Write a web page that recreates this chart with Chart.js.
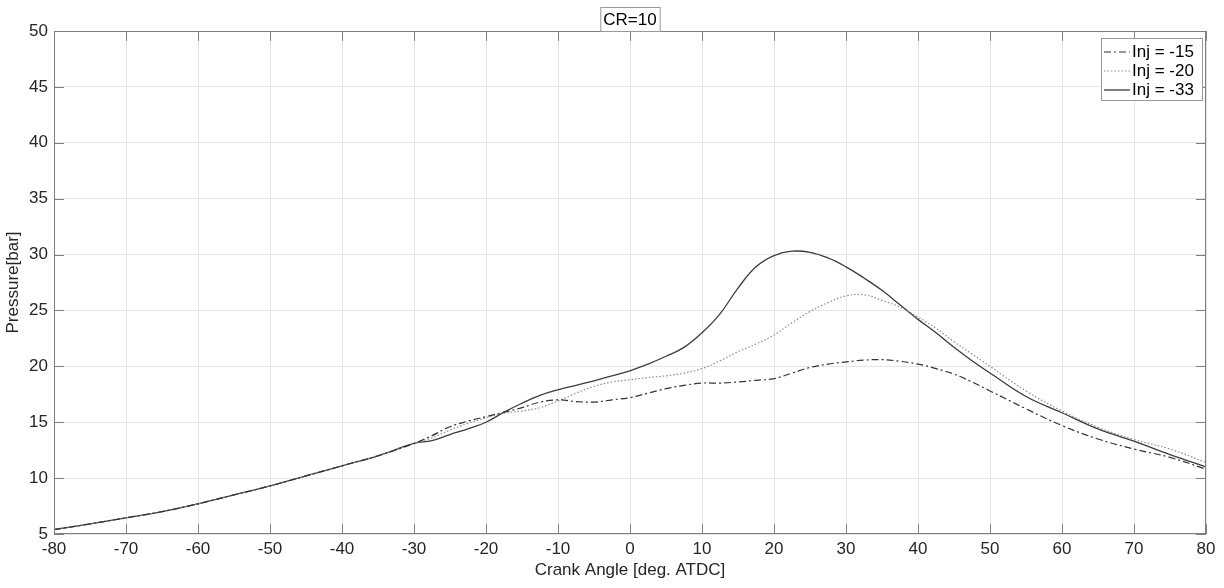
<!DOCTYPE html>
<html>
<head>
<meta charset="utf-8">
<script src="https://cdn.jsdelivr.net/npm/chart.js@4.4.1/dist/chart.umd.min.js"></script>
<style>
  html, body { margin: 0; padding: 0; background: #fff; }
</style>
</head>
<body>
<canvas id="myChart" width="1224" height="588"></canvas>
<script>
// crank angle samples [deg. ATDC]
const angles = [
  -80, -75, -70, -65, -60, -55, -50, -45, -40, -35, -30, -27.5, -25, -22.5, -20, -17.5,
  -15, -12.5, -10, -7.5, -5, -2.5, 0, 2.5, 5, 7.5, 10, 12.5, 15, 17.5, 20, 22.5, 25,
  27.5, 30, 32.5, 35, 37.5, 40, 42.5, 45, 47.5, 50, 55, 60, 65, 70, 75, 80,
];

// pressure [bar] for each injection timing
const inj15 = [
  5.4, 5.9, 6.45, 7.0, 7.7, 8.5, 9.3, 10.2, 11.1, 12.0, 13.1, 13.8, 14.6, 15.1, 15.5, 15.9,
  16.3, 16.8, 17.0, 16.85, 16.8, 17.0, 17.2, 17.6, 18.0, 18.3, 18.5, 18.5, 18.6, 18.75, 18.9, 19.4, 19.9,
  20.2, 20.4, 20.55, 20.6, 20.45, 20.2, 19.8, 19.3, 18.6, 17.8, 16.2, 14.7, 13.5, 12.6, 11.85, 10.8,
];
const inj20 = [
  5.4, 5.9, 6.45, 7.0, 7.7, 8.5, 9.3, 10.2, 11.1, 12.0, 13.1, 13.6, 14.3, 14.9, 15.4, 15.8,
  16.0, 16.3, 16.9, 17.6, 18.2, 18.6, 18.8, 19.0, 19.15, 19.4, 19.8, 20.5, 21.3, 22.0, 22.8, 23.9, 24.9,
  25.7, 26.3, 26.4, 25.9, 25.3, 24.4, 23.4, 22.2, 21.1, 20.0, 17.8, 16.0, 14.55, 13.45, 12.6, 11.4,
];
const inj33 = [
  5.4, 5.9, 6.45, 7.0, 7.7, 8.5, 9.3, 10.2, 11.1, 12.0, 13.1, 13.35, 13.9, 14.4, 15.0, 15.9,
  16.7, 17.4, 17.9, 18.3, 18.7, 19.15, 19.6, 20.2, 20.9, 21.7, 23.0, 24.7, 27.0, 28.9, 29.9, 30.3, 30.2,
  29.7, 28.9, 27.9, 26.8, 25.5, 24.2, 23.0, 21.7, 20.5, 19.4, 17.3, 15.85, 14.4, 13.3, 12.1, 11.0,
];

const seriesLabels = ['Inj = -15', 'Inj = -20', 'Inj = -33'];
const titleText = 'CR=10';
const fontFamily = '"Liberation Sans", Arial, sans-serif';
const fontSize = 17;
const axisColor = '#7f7f7f';
const textColor = '#262626';

function toPoints(values) {
  return angles.map((a, i) => ({ x: a, y: values[i] }));
}

// axes box, inward ticks, title box and legend box (matlab look)
const matlabFrame = {
  id: 'matlabFrame',
  afterDraw(chart) {
    const ctx = chart.ctx;
    const area = chart.chartArea;
    const xs = chart.scales.x;
    const ys = chart.scales.y;
    ctx.save();
    ctx.strokeStyle = axisColor;
    ctx.lineWidth = 1;
    ctx.setLineDash([]);
    ctx.strokeRect(area.left + 0.5, area.top + 0.5, area.width - 1, area.height - 1);

    // inward tick marks
    ctx.beginPath();
    xs.ticks.forEach((t) => {
      const px = Math.round(xs.getPixelForValue(t.value)) + 0.5;
      ctx.moveTo(px, area.bottom);
      ctx.lineTo(px, area.bottom - 10);
      ctx.moveTo(px, area.top);
      ctx.lineTo(px, area.top + 10);
    });
    ys.ticks.forEach((t) => {
      const py = Math.round(ys.getPixelForValue(t.value)) + 0.5;
      ctx.moveTo(area.left, py);
      ctx.lineTo(area.left + 10, py);
      ctx.moveTo(area.right, py);
      ctx.lineTo(area.right - 10, py);
    });
    ctx.stroke();

    // title box
    ctx.font = fontSize + 'px ' + fontFamily;
    const tw = ctx.measureText(titleText).width;
    const cx = (area.left + area.right) / 2;
    ctx.fillStyle = '#fff';
    ctx.fillRect(cx - tw / 2 - 3, 7, tw + 6, area.top - 7);
    ctx.strokeStyle = '#999';
    ctx.strokeRect(cx - tw / 2 - 3 + 0.5, 7.5, tw + 6, area.top - 7);
    ctx.fillStyle = '#000';
    ctx.textAlign = 'center';
    ctx.textBaseline = 'middle';
    ctx.fillText(titleText, cx, 20);

    // legend box in the upper right corner
    const boxW = 101, boxH = 62;
    const bx = area.right - boxW - 4, by = area.top + 7;
    ctx.fillStyle = '#fff';
    ctx.fillRect(bx, by, boxW, boxH);
    ctx.strokeStyle = '#999';
    ctx.strokeRect(bx + 0.5, by + 0.5, boxW, boxH);
    ctx.textAlign = 'left';
    chart.data.datasets.forEach((ds, i) => {
      const ly = by + 14 + i * 19;
      ctx.beginPath();
      ctx.strokeStyle = ds.borderColor;
      ctx.lineWidth = ds.borderWidth;
      ctx.setLineDash(ds.borderDash || []);
      ctx.moveTo(bx + 3, ly);
      ctx.lineTo(bx + 29, ly);
      ctx.stroke();
      ctx.setLineDash([]);
      ctx.fillStyle = '#000';
      ctx.fillText(ds.label, bx + 31, ly);
    });
    ctx.restore();
  },
};

var ctx = document.getElementById('myChart');
var lineChart = new Chart(ctx, {
  type: 'line',
  data: {
    datasets: [
      {
        label: seriesLabels[0],
        data: toPoints(inj15),
        borderColor: '#333',
        borderWidth: 1.2,
        borderDash: [7, 3, 2, 3],
      },
      {
        label: seriesLabels[1],
        data: toPoints(inj20),
        borderColor: '#8c8c8c',
        borderWidth: 1.2,
        borderDash: [1.5, 2],
      },
      {
        label: seriesLabels[2],
        data: toPoints(inj33),
        borderColor: '#3c3c3c',
        borderWidth: 1.3,
      },
    ],
  },
  options: {
    responsive: false,
    animation: false,
    layout: { padding: { left: 0, top: 31, right: 18, bottom: 0 } },
    elements: {
      point: { radius: 0 },
      line: { tension: 0.4, fill: false },
    },
    plugins: {
      legend: { display: false },
      title: { display: false },
      tooltip: { enabled: false },
    },
    scales: {
      x: {
        type: 'linear',
        min: -80,
        max: 80,
        ticks: {
          stepSize: 10,
          color: textColor,
          padding: 5,
          maxRotation: 0,
          font: { family: fontFamily, size: fontSize },
        },
        grid: { color: '#e4e4e4', drawTicks: false },
        border: { display: false },
        title: {
          display: true,
          text: 'Crank Angle [deg. ATDC]',
          color: textColor,
          font: { family: fontFamily, size: fontSize },
          padding: { top: 0, bottom: 7 },
        },
        afterFit(scale) { scale.height = 54; },
      },
      y: {
        min: 5,
        max: 50,
        ticks: {
          stepSize: 5,
          color: textColor,
          padding: 6,
          font: { family: fontFamily, size: fontSize },
        },
        grid: { color: '#e4e4e4', drawTicks: false },
        border: { display: false },
        title: {
          display: true,
          text: 'Pressure[bar]',
          color: textColor,
          font: { family: fontFamily, size: fontSize },
          padding: { top: 3, bottom: 0 },
        },
        afterFit(scale) { scale.width = 54; },
      },
    },
  },
  plugins: [matlabFrame],
});
</script>
</body>
</html>
